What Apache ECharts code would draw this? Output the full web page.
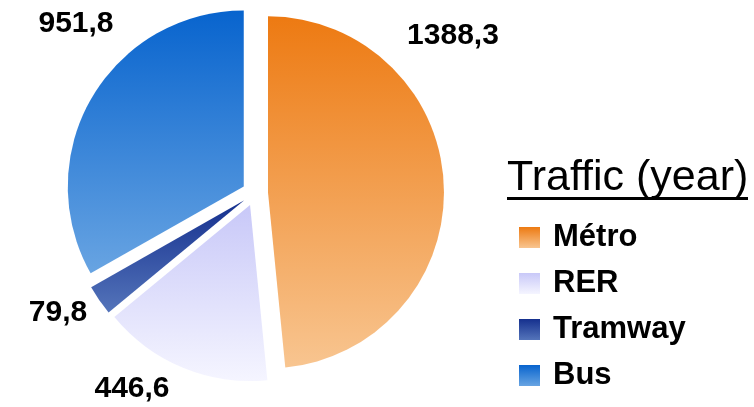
<!DOCTYPE html>
<html>
<head>
<meta charset="utf-8">
<script src="https://cdn.jsdelivr.net/npm/echarts@6/dist/echarts.min.js"></script>
<style>
html,body{margin:0;padding:0;background:#fff;}
#main{width:754px;height:407px;}
</style>
</head>
<body>
<div id="main"></div>
<script>
var categories = ['Métro', 'RER', 'Tramway', 'Bus'];
var values = [1388.3, 446.6, 79.8, 951.8];
var legendTitle = 'Traffic (year)';

var gradStops = [
  ['#ED7A12', '#F8C590'],
  ['#C8C8F8', '#F5F5FF'],
  ['#15308E', '#5474BA'],
  ['#0864CE', '#68A4E2']
];
var labelPos = [[453, 36], [132, 389], [58, 313], [76, 24]];

function grad(i) {
  return new echarts.graphic.LinearGradient(0, 0, 0, 1, [
    {offset: 0, color: gradStops[i][0]},
    {offset: 1, color: gradStops[i][1]}
  ]);
}
function fmt(v) { return v.toFixed(1).replace('.', ','); }

var chart = echarts.init(document.getElementById('main'), null, {renderer: 'canvas'});
var FONT = '"Liberation Sans", Arial, sans-serif';

var graphics = [
  {
    type: 'text',
    left: 507,
    top: 157,
    style: {
      text: legendTitle,
      font: '43px ' + FONT,
      fill: '#000'
    }
  },
  {
    type: 'rect',
    shape: {x: 507, y: 197, width: 241, height: 3},
    style: {fill: '#000'}
  }
];
values.forEach(function (v, i) {
  graphics.push({
    type: 'text',
    x: labelPos[i][0],
    y: labelPos[i][1],
    style: {
      text: fmt(v),
      font: 'bold 30px ' + FONT,
      fill: '#000',
      align: 'center',
      verticalAlign: 'middle'
    }
  });
});

chart.setOption({
  animation: false,
  legend: {
    orient: 'vertical',
    left: 519,
    top: 222,
    padding: 0,
    itemWidth: 21,
    itemHeight: 21,
    itemGap: 15,
    icon: 'rect',
    selectedMode: false,
    data: categories,
    textStyle: {
      fontFamily: FONT,
      fontWeight: 'bold',
      fontSize: 31,
      lineHeight: 30,
      color: '#000',
      padding: [0, 0, 0, 8]
    }
  },
  graphic: graphics,
  series: [{
    type: 'pie',
    center: [255, 193],
    radius: [0, 176],
    startAngle: 90,
    clockwise: true,
    selectedMode: 'multiple',
    selectedOffset: 13,
    label: {show: false},
    labelLine: {show: false},
    emphasis: {disabled: true},
    data: categories.map(function (c, i) {
      return {name: c, value: values[i], selected: true, itemStyle: {color: grad(i)}};
    })
  }]
});
</script>
</body>
</html>
